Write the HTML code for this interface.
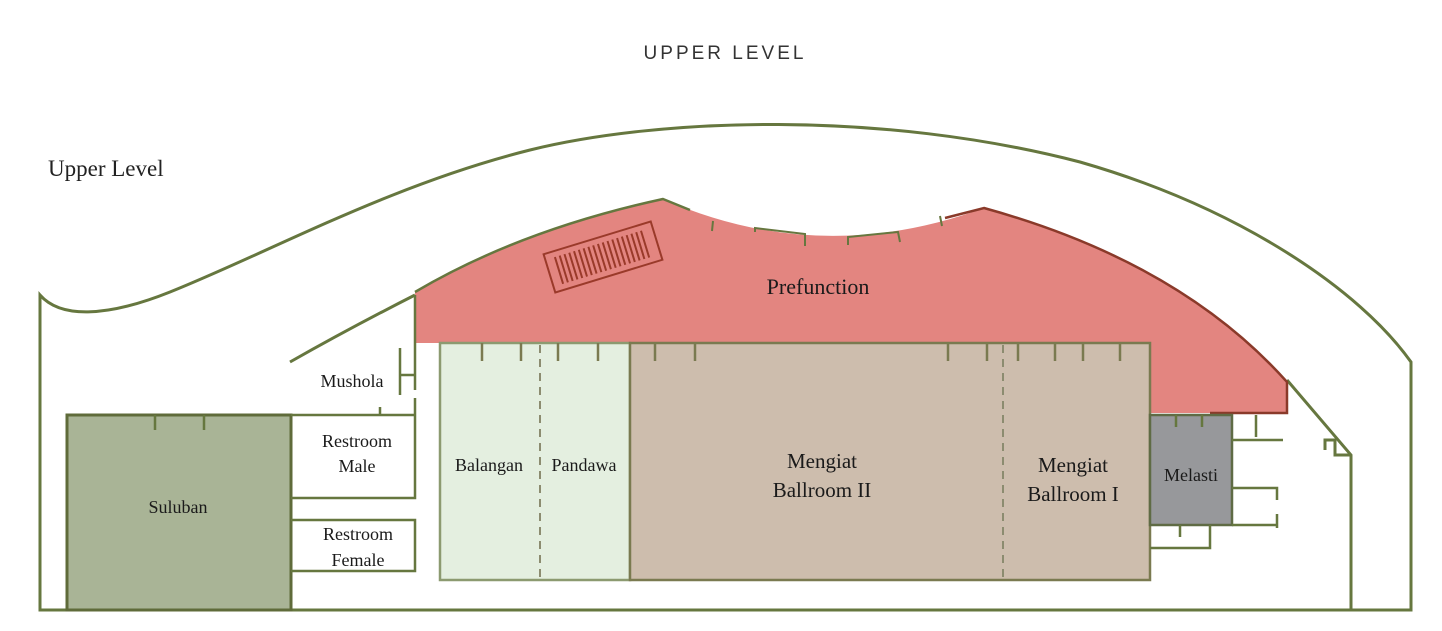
<!DOCTYPE html>
<html><head><meta charset="utf-8"><style>
html,body{margin:0;padding:0;background:#fff;width:1442px;height:631px;overflow:hidden}
svg{display:block}
</style></head><body>
<svg width="1442" height="631" viewBox="0 0 1442 631" xmlns="http://www.w3.org/2000/svg">
<text x="725" y="59" text-anchor="middle" font-family="Liberation Sans, sans-serif" font-size="19" letter-spacing="3" fill="#333">UPPER LEVEL</text>
<text x="48" y="176" font-family="Liberation Serif, serif" font-size="23" fill="#222">Upper Level</text>
<g fill="none" stroke="#66773f" stroke-width="3">
<path d="M40,295 C60,318 105,318 170,292 C270,252 390,185 530,150 C660,118 880,110 1080,162 C1240,208 1360,290 1411,362 L1411,610 L40,610 Z"/>
<path d="M1287,380 L1351,455 L1351,610"/>
<path d="M1325,450 L1325,440 L1335,440 L1335,455 L1351,455"/>
<path d="M290,362 Q350,328 415,295"/>
</g>
<path d="M415,292 Q520,230 663,199 Q820,268 984,208 Q1180,262 1287,382 L1287,413 L1150,413 L1150,343 L415,343 Z" fill="#e38580"/>
<path d="M415,292 Q520,230 663,199 L690,210" fill="none" stroke="#66773f" stroke-width="2.5"/>
<path d="M945,218 L984,208 Q1180,262 1287,382 L1287,413 L1210,413" fill="none" stroke="#8a3a2a" stroke-width="2.5"/>
<path d="M713,221 l-1,10 M755,232 l0,-4 l50,6 l0,12 M848,245 l0,-8 l50,-5 l2,10 M940,216 l2,10" fill="none" stroke="#66773f" stroke-width="2"/>
<g transform="translate(603,257) rotate(-17)" fill="none" stroke="#9a3a2a" stroke-width="2">
<rect x="-56" y="-20" width="112" height="40"/>
<path d="M-46,-14 v28 M-41,-14 v28 M-36,-14 v28 M-31,-14 v28 M-26,-14 v28 M-21,-14 v28 M-16,-14 v28 M-11,-14 v28 M-6,-14 v28 M-1,-14 v28 M4,-14 v28 M9,-14 v28 M14,-14 v28 M19,-14 v28 M24,-14 v28 M29,-14 v28 M34,-14 v28 M39,-14 v28 M44,-14 v28"/>
</g>
<rect x="440" y="343" width="190" height="237" fill="#e4efe0" stroke="#8c9a70" stroke-width="2.5"/>
<rect x="630" y="343" width="520" height="237" fill="#cdbdad" stroke="#7a7a50" stroke-width="2.5"/>
<path d="M540,345 V580 M1003,345 V580" stroke="#8c8c70" stroke-width="2" stroke-dasharray="8,6"/>
<path d="M482,343 v18 M521,343 v18 M558,343 v18 M598,343 v18 M655,343 v18 M695,343 v18 M948,343 v18 M987,343 v18 M1018,343 v18 M1055,343 v18 M1083,343 v18 M1120,343 v18" stroke="#7a7a50" stroke-width="2.5"/>
<rect x="1150" y="415" width="82" height="110" fill="#97989b" stroke="#5f6b45" stroke-width="2.5"/>
<rect x="67" y="415" width="224" height="195" fill="#a9b496" stroke="#5f6b3a" stroke-width="3"/>
<g fill="none" stroke="#66773f" stroke-width="2.5">
<path d="M155,415 v15 M204,415 v15"/>
<path d="M415,295 V390 M415,398 V498 L291,498 M291,415 H415 M380,415 v-8"/>
<path d="M400,348 V395 M400,375 H415"/>
<path d="M291,520 H415 V571 H291"/>
<path d="M1176,415 v12 M1202,415 v12"/>
<path d="M1232,440 H1283 M1256,415 v22 M1232,488 H1277 V500 M1277,514 V528 M1232,525 H1277"/>
<path d="M1150,548 H1210 V525 M1180,525 v12"/>
</g>
<g font-family="Liberation Serif, serif" fill="#1a1a1a" text-anchor="middle">
<text x="818" y="294" font-size="22">Prefunction</text>
<text x="352" y="387" font-size="18">Mushola</text>
<text x="357" y="447" font-size="18">Restroom</text>
<text x="357" y="472" font-size="18">Male</text>
<text x="358" y="540" font-size="18">Restroom</text>
<text x="358" y="566" font-size="18">Female</text>
<text x="178" y="513" font-size="18">Suluban</text>
<text x="489" y="471" font-size="18">Balangan</text>
<text x="584" y="471" font-size="18">Pandawa</text>
<text x="822" y="468" font-size="21">Mengiat</text>
<text x="822" y="497" font-size="21">Ballroom II</text>
<text x="1073" y="472" font-size="21">Mengiat</text>
<text x="1073" y="501" font-size="21">Ballroom I</text>
<text x="1191" y="481" font-size="18">Melasti</text>
</g>
</svg>
</body></html>
